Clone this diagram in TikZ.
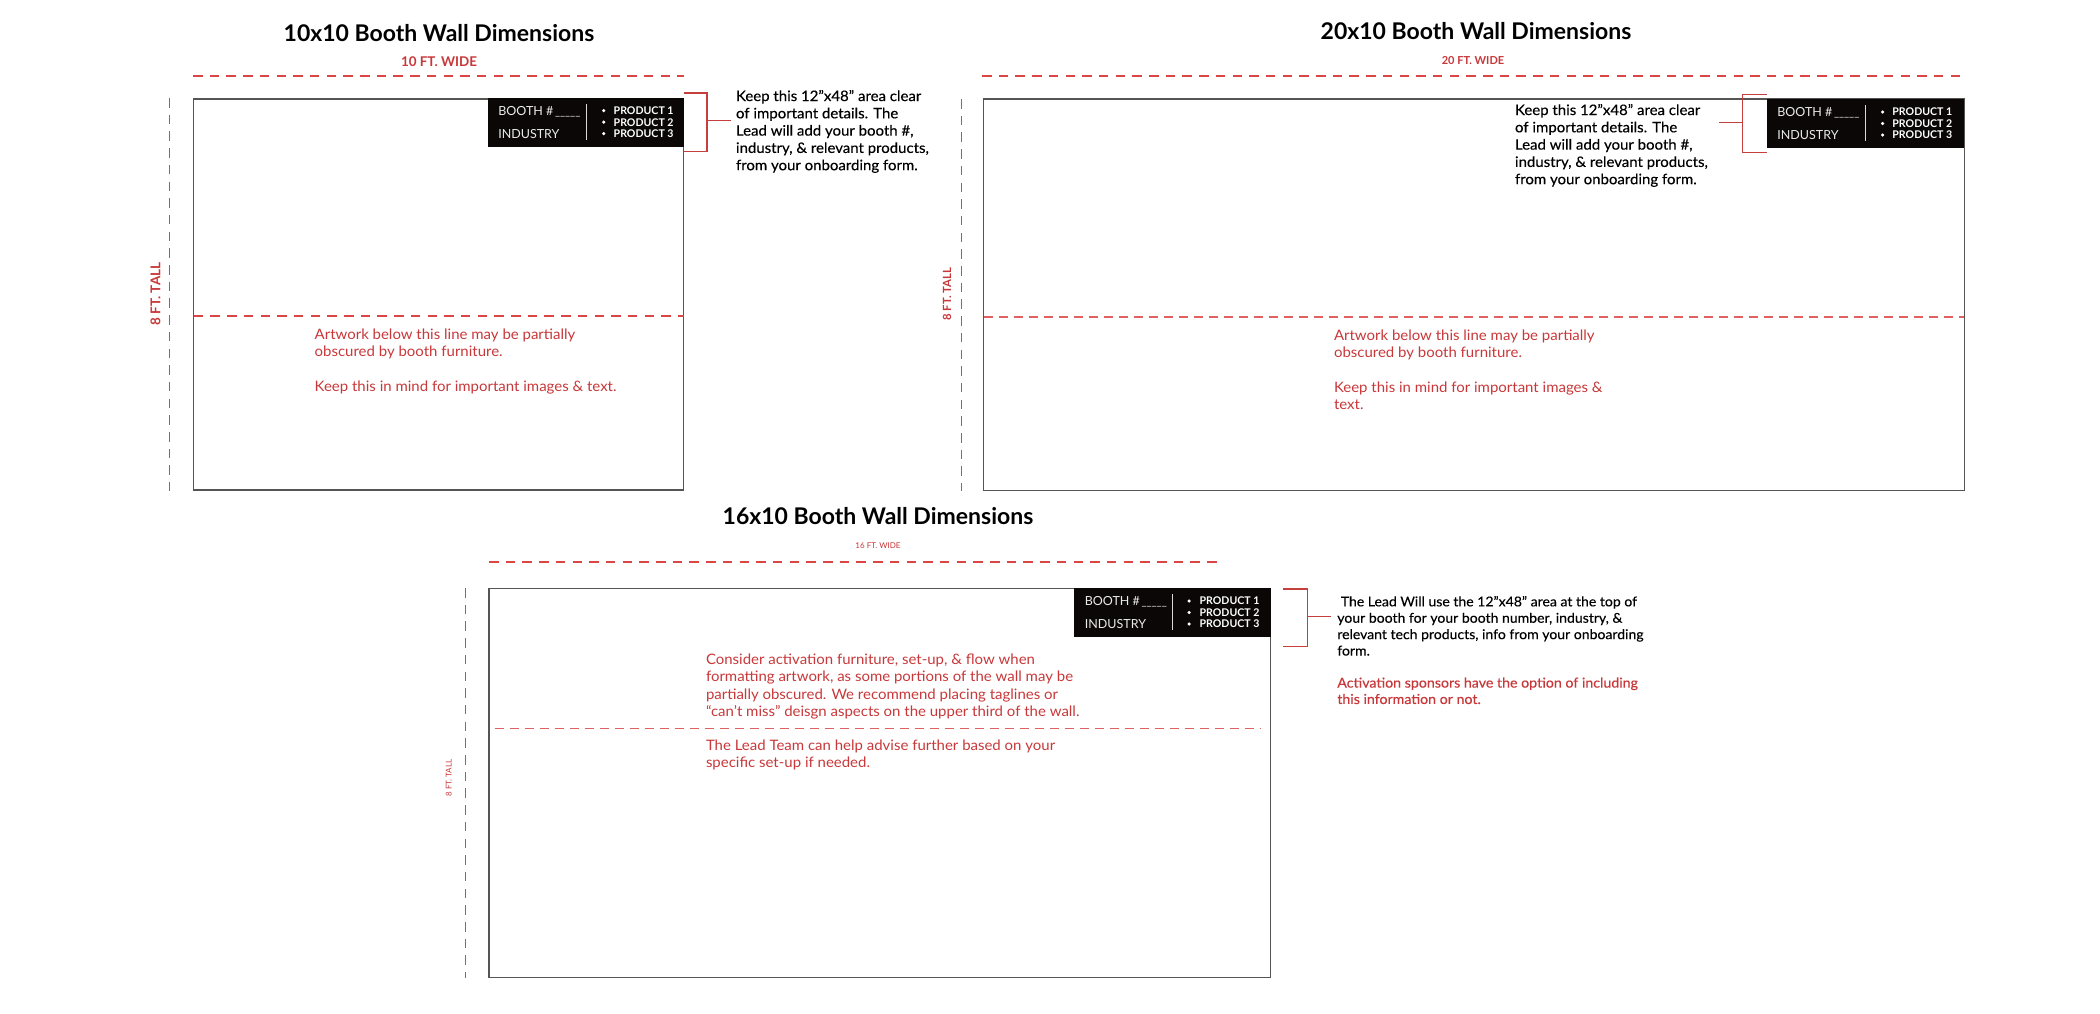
\documentclass[tikz,border=0pt]{standalone}
\usepackage{fontspec}
\setmainfont{Lato}
\newfontfamily\bodyf[FakeStretch=1.04]{Lato}
\newfontfamily\medf[FakeStretch=1.04,FakeBold=0.25]{Lato}
\newfontfamily\headf{Lato}[BoldFont=* Bold]
\definecolor{redtxt}{HTML}{C8383A}
\definecolor{reddash}{HTML}{DB4644}
\definecolor{wall}{HTML}{555555}
\definecolor{band}{HTML}{0B0707}
\tikzset{
  every node/.style={inner sep=0pt,outer sep=0pt},
  wallbox/.style={draw=wall,line width=1.3pt},
  dashline/.style={draw=reddash,line width=1.3pt,dash pattern=on 9.5pt off 7.2pt},
  middash/.style={draw=reddash!85!white,line width=1.3pt,dash pattern=on 9pt off 6pt},
  brack/.style={draw=reddash!90!black,line width=1.4pt},
  titletxt/.style={font=\fontsize{23}{27}\selectfont\headf\bfseries,text=black},
  dimbig/.style={font=\fontsize{13.4}{15}\selectfont\bfseries,text=redtxt},
  note/.style={anchor=north west,align=left,text=redtxt,font=\fontsize{14.4}{17.3}\selectfont\bodyf},
  blacknote/.style={anchor=north west,align=left,text=black,font=\fontsize{14.4}{17.3}\selectfont\medf},
  boothtxt/.style={anchor=west,text=white!92!black,font=\fontsize{12.5}{14}\selectfont},
  prodtxt/.style={anchor=west,text=white,font=\fontsize{10.6}{12}\selectfont\bfseries},
  bullettxt/.style={circle,fill=white,minimum size=3.5pt},
}
% #1 prefix, #2 band left, #3 band top, #4 band right, #5 band bottom, #6 divider x,
% #7 booth x, #8 bullet x, #9 product x
\newcommand{\bandblock}[9]{%
  \fill[band] (#2,#3) rectangle (#4,#5);
  \draw[white!85!black,line width=0.6pt] (#6,#3+6) -- (#6,#5-7);
  \node[boothtxt] (#1booth) at (#7,#3+14) {BOOTH \# {\hspace{-1.5pt}\fontsize{11}{12}\selectfont\_\_\_\_\_}};
  \node[boothtxt] (#1ind) at (#7,#3+36.5) {INDUSTRY};
  \node[bullettxt] (#1ba) at (#8,#3+13) {};
  \node[bullettxt] (#1bb) at (#8,#3+24.5) {};
  \node[bullettxt] (#1bc) at (#8,#3+36) {};
  \node[prodtxt] (#1pa) at (#9,#3+13) {PRODUCT 1};
  \node[prodtxt] (#1pb) at (#9,#3+24.5) {PRODUCT 2};
  \node[prodtxt] (#1pc) at (#9,#3+36) {PRODUCT 3};
}
\begin{document}
\begin{tikzpicture}[x=1pt,y=-1pt]
\useasboundingbox (0,0) rectangle (2100,1013);
\fill[white] (0,0) rectangle (2100,1013);

% ---------- 10x10
\node[titletxt] (t1) at (439,33) {10x10 Booth Wall Dimensions};
\node[dimbig] (w1) at (439,62) {10 FT. WIDE};
\coordinate (w1a) at (193,76); \coordinate (w1b) at (684,76);
\draw[dashline] (w1a) -- (w1b);
\coordinate (h1a) at (169.5,98); \coordinate (h1b) at (169.5,491);
\draw[dashline] (h1a) -- (h1b);
\node[dimbig,rotate=90,font=\fontsize{13.5}{15}\selectfont\bfseries] (h1) at (155.5,294) {8 FT. TALL};
\draw[wallbox] (193.7,99) rectangle (683.5,490);
\coordinate (m1a) at (193.7,316); \coordinate (m1b) at (683.5,316);
\draw[dashline] (m1a) -- (m1b);
\bandblock{a}{487.7}{97.7}{683.5}{147}{586}{498.3}{603.7}{613.7}
\coordinate (b1t) at (683.5,93); \coordinate (b1c) at (707,93);
\coordinate (b1d) at (707,151.3); \coordinate (b1e) at (683.5,151.3);
\coordinate (b1f) at (707,120.7); \coordinate (b1g) at (731,120.7);
\draw[brack] (b1t) -- (b1c) -- (b1d) -- (b1e);
\draw[brack] (b1f) -- (b1g);
\node[blacknote] (n1) at (736,90) {Keep this 12”x48” area clear\\of important details. The\\Lead will add your booth \#,\\industry, \& relevant products,\\from your onboarding form.};
\node[note] (r1) at (314.7,329) {Artwork below this line may be partially\\obscured by booth furniture.\\[17.3pt]Keep this in mind for important images \& text.};

% ---------- 20x10
\node[titletxt] (t2) at (1476,31) {20x10 Booth Wall Dimensions};
\node[dimbig,font=\fontsize{11}{13}\selectfont\bfseries] (w2) at (1473,61) {20 FT. WIDE};
\coordinate (w2a) at (982,76); \coordinate (w2b) at (1964.4,76);
\draw[dashline] (w2a) -- (w2b);
\coordinate (h2a) at (961.5,99); \coordinate (h2b) at (961.5,491);
\draw[dashline] (h2a) -- (h2b);
\node[dimbig,rotate=90,font=\fontsize{11.3}{13}\selectfont\bfseries] (h2) at (947,294) {8 FT. TALL};
\draw[wallbox] (983.6,99) rectangle (1964.4,490.5);
\coordinate (m2a) at (983.6,317); \coordinate (m2b) at (1964.4,317);
\draw[middash] (m2a) -- (m2b);
\bandblock{b}{1766.7}{99}{1964.4}{148.3}{1865.5}{1777.3}{1882.5}{1892.4}
\coordinate (b2t) at (1766.7,94.7); \coordinate (b2c) at (1742.6,94.7);
\coordinate (b2d) at (1742.6,152.7); \coordinate (b2e) at (1766.7,152.7);
\coordinate (b2f) at (1742.6,122.3); \coordinate (b2g) at (1718.8,122.3);
\draw[brack] (b2t) -- (b2c) -- (b2d) -- (b2e);
\draw[brack] (b2f) -- (b2g);
\node[blacknote] (n2) at (1515,104) {Keep this 12”x48” area clear\\of important details. The\\Lead will add your booth \#,\\industry, \& relevant products,\\from your onboarding form.};
\node[note] (r2) at (1334,330) {Artwork below this line may be partially\\obscured by booth furniture.\\[17.3pt]Keep this in mind for important images \&\\text.};

% ---------- 16x10
\node[titletxt] (t3) at (878,516.5) {16x10 Booth Wall Dimensions};
\node[font=\fontsize{8}{10}\selectfont,text=redtxt] (w3) at (878,545.7) {16 FT. WIDE};
\coordinate (w3a) at (489,562); \coordinate (w3b) at (1222,562);
\draw[dashline] (w3a) -- (w3b);
\coordinate (h3a) at (465.3,588); \coordinate (h3b) at (465.3,978);
\draw[dashline] (h3a) -- (h3b);
\node[rotate=90,font=\fontsize{8}{10}\selectfont,text=redtxt] (h3) at (448.7,778) {8 FT. TALL};
\draw[wallbox] (489,588.7) rectangle (1270.7,977.5);
\coordinate (m3a) at (494.6,728.7); \coordinate (m3b) at (1260,728.7);
\draw[middash] (m3a) -- (m3b);
\bandblock{c}{1074.4}{588}{1270.7}{637.3}{1172.6}{1084.8}{1189}{1199.6}
\coordinate (b3t) at (1283.3,589); \coordinate (b3c) at (1307.7,589);
\coordinate (b3d) at (1307.7,646.7); \coordinate (b3e) at (1283.3,646.7);
\coordinate (b3f) at (1307.7,616.7); \coordinate (b3g) at (1331,616.7);
\draw[brack] (b3t) -- (b3c) -- (b3d) -- (b3e);
\draw[brack] (b3f) -- (b3g);
\node[note] (r3) at (706,654) {Consider activation furniture, set-up, \& flow when\\formatting artwork, as some portions of the wall may be\\partially obscured. We recommend placing taglines or\\“can’t miss” deisgn aspects on the upper third of the wall.};
\node[note] (r3b) at (706,740) {The Lead Team can help advise further based on your\\specific set-up if needed.};
\node[blacknote,font=\fontsize{13.5}{16.4}\selectfont\medf] (n3) at (1337.3,596) {\hspace*{3.5pt}The Lead Will use the 12”x48” area at the top of\\your booth for your booth number, industry, \&\\relevant tech products, info from your onboarding\\form.};
\node[note,font=\fontsize{13.65}{16.4}\selectfont\medf] (r3c) at (1337.3,677.5) {Activation sponsors have the option of including\\this information or not.};
\end{tikzpicture}
\end{document}
